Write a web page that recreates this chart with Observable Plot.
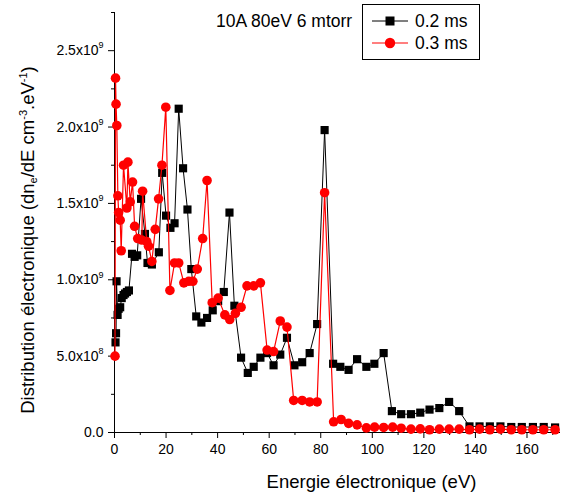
<!DOCTYPE html>
<html><head><meta charset="utf-8">
<script src="https://cdn.jsdelivr.net/npm/d3@7"></script>
<script src="https://cdn.jsdelivr.net/npm/@observablehq/plot@0.6"></script>
<style>
body{margin:0;background:#fff;}
#wrap{position:relative;width:563px;height:496px;font-family:"Liberation Sans",Arial,sans-serif;color:#000;overflow:hidden;}
#wrap svg{display:block;}
.ann{position:absolute;left:216px;top:11px;font-size:17.5px;white-space:nowrap;}
.legend{position:absolute;left:362px;top:4px;width:116px;height:54px;border:1px solid #000;background:#fff;}
.xlab{position:absolute;left:0;width:563px;top:471px;text-align:center;font-size:18.5px;white-space:nowrap;padding-left:180px;box-sizing:border-box;}
.ylab{position:absolute;left:28px;top:240px;font-size:18.5px;white-space:nowrap;transform:translate(-50%,-50%) rotate(-90deg);}
.ylab sub{font-size:11px;vertical-align:-3px;}
.ylab sup{font-size:11px;vertical-align:7px;}
</style></head><body><div id="wrap"></div>
<script>
// ---- data ----
const energy02 = [0.4,0.6,0.8,1.2,1.6,2.2,2.8,3.5,4.1,4.8,5.6,6.8,7.8,8.8,10.3,11.8,12.8,14.5,17.2,18.5,20.0,21.7,23.3,24.9,26.6,28.3,29.8,31.7,33.7,35.9,38.1,40.2,42.4,44.6,46.5,49.1,51.7,54.0,56.6,59.2,61.7,64.3,66.9,69.8,72.8,75.7,78.6,81.5,84.8,87.6,90.8,94.1,97.7,100.8,104.4,107.6,111.2,115.0,118.6,122.2,126.0,129.8,133.7,137.7,141.6,145.6,149.7,153.9,158.0,162.3,166.5,170.9];
const dist02 = [0.59e9,0.65e9,0.99e9,0.77e9,0.81e9,0.82e9,0.88e9,0.90e9,0.91e9,0.92e9,0.93e9,1.17e9,1.15e9,1.16e9,1.53e9,1.30e9,1.11e9,1.10e9,1.18e9,1.70e9,1.42e9,1.34e9,1.37e9,2.12e9,1.73e9,1.46e9,1.07e9,0.76e9,0.72e9,0.75e9,0.80e9,0.86e9,0.92e9,1.44e9,0.83e9,0.49e9,0.39e9,0.43e9,0.49e9,0.52e9,0.44e9,0.51e9,0.62e9,0.44e9,0.46e9,0.52e9,0.71e9,1.98e9,0.45e9,0.43e9,0.41e9,0.48e9,0.43e9,0.45e9,0.52e9,0.14e9,0.12e9,0.12e9,0.13e9,0.15e9,0.16e9,0.20e9,0.14e9,0.04e9,0.04e9,0.04e9,0.04e9,0.036e9,0.036e9,0.036e9,0.036e9,0.033e9];
const energy03 = [0.2,0.4,0.6,0.9,1.3,1.6,2.2,2.6,3.5,4.8,5.2,6.1,7.0,7.8,9.0,10.6,10.9,12.5,13.2,14.5,15.8,17.1,18.4,19.9,21.5,23.3,24.9,26.9,28.8,30.4,32.1,34.2,35.9,37.9,40.2,42.8,44.7,46.9,49.1,51.4,54.0,56.6,59.2,61.7,64.3,66.9,69.5,72.8,75.7,78.6,81.5,85.0,87.9,90.8,94.1,97.7,100.9,104.4,107.9,111.2,115.0,118.6,122.2,126.0,129.8,133.7,137.7,141.6,145.6,149.7,153.9,158.0,162.3,166.5,170.9];
const dist03 = [0.50e9,2.32e9,2.15e9,2.01e9,1.55e9,1.44e9,1.39e9,1.19e9,1.75e9,1.47e9,1.77e9,1.51e9,1.64e9,1.35e9,1.27e9,1.26e9,1.58e9,1.25e9,1.22e9,1.12e9,1.33e9,1.53e9,1.75e9,2.13e9,0.93e9,1.11e9,1.11e9,0.98e9,0.99e9,0.99e9,1.07e9,1.27e9,1.65e9,0.85e9,0.88e9,0.77e9,0.74e9,0.78e9,0.82e9,0.96e9,0.96e9,0.98e9,0.54e9,0.53e9,0.73e9,0.69e9,0.21e9,0.21e9,0.20e9,0.20e9,1.57e9,0.07e9,0.085e9,0.06e9,0.05e9,0.03e9,0.035e9,0.033e9,0.035e9,0.028e9,0.022e9,0.024e9,0.018e9,0.022e9,0.022e9,0.022e9,0.018e9,0.022e9,0.018e9,0.022e9,0.018e9,0.018e9,0.018e9,0.018e9,0.018e9];
const seriesNames = ["0.2 ms","0.3 ms"];
const seriesColors = ["#000000","#ff0000"];
const xTicks = [0,20,40,60,80,100,120,140,160];
const xMinor = [10,30,50,70,90,110,130,150,170];
const yTicks = [0,5e8,1e9,1.5e9,2e9,2.5e9];
const yMinor = [2.5e8,7.5e8,1.25e9,1.75e9,2.25e9,2.75e9];
const yTickMantissa = ["0.0","5.0x10","1.0x10","1.5x10","2.0x10","2.5x10"];
const yTickExp = ["","8","9","9","9","9"];
const annotation = "10A 80eV 6 mtorr";
const xTitle = "Energie électronique (eV)";

const d02 = energy02.map((e,i)=>({e, v: dist02[i]}));
const d03 = energy03.map((e,i)=>({e, v: dist03[i]}));

const plot = Plot.plot({
  width:563, height:496,
  marginLeft:114, marginRight:3, marginTop:12, marginBottom:64,
  style:{fontFamily:"Liberation Sans, Arial, sans-serif", fontSize:"14px", color:"#000", background:"transparent"},
  x:{domain:[0,173], label:null},
  y:{domain:[0,2.75e9], label:null},
  marks:[
    Plot.axisX({ticks:xMinor, tickSize:3, tickFormat:()=>"", label:null}),
    Plot.axisX({ticks:xTicks, tickSize:6, tickPadding:6, tickFormat:d=>String(d), fontSize:14, label:null}),
    Plot.axisY({ticks:yMinor, tickSize:3, tickFormat:()=>"", label:null}),
    Plot.axisY({ticks:yTicks, tickSize:6, tickPadding:5, tickFormat:d=>yTickMantissa[yTicks.indexOf(d)], fontSize:14, label:null}),
    Plot.ruleY([0], {stroke:"#000", strokeWidth:1}),
    Plot.ruleX([0], {stroke:"#000", strokeWidth:1}),
    Plot.line(d02, {x:"e", y:"v", stroke:seriesColors[0], strokeWidth:1}),
    Plot.dot(d02, {x:"e", y:"v", symbol:"square", r:4.6, fill:seriesColors[0], stroke:"none"}),
    Plot.line(d03, {x:"e", y:"v", stroke:seriesColors[1], strokeWidth:1.2}),
    Plot.dot(d03, {x:"e", y:"v", symbol:"circle", r:4.8, fill:seriesColors[1], stroke:"none"})
  ]
});

// superscript exponents on y tick labels
d3.select(plot).selectAll('g[aria-label="y-axis tick label"] text').each(function(){
  const t = this.textContent;
  const i = yTickMantissa.indexOf(t);
  if (i >= 0 && yTickExp[i]) {
    d3.select(this).append("tspan").attr("font-size","9px").attr("dy","-0.75em").text(yTickExp[i]);
  }
});

const wrap = document.getElementById("wrap");
wrap.appendChild(plot);

const ann = document.createElement("div");
ann.className = "ann"; ann.textContent = annotation; wrap.appendChild(ann);

const xl = document.createElement("div");
xl.className = "xlab"; xl.textContent = xTitle; wrap.appendChild(xl);

const yl = document.createElement("div");
yl.className = "ylab";
yl.innerHTML = "Distribution électronique (dn<sub>e</sub>/dE cm<sup>-3</sup>.eV<sup>-1</sup>)";
wrap.appendChild(yl);

// legend
const lg = document.createElement("div");
lg.className = "legend";
const lsvg = d3.create("svg").attr("width",116).attr("height",54);
seriesNames.forEach((name,i)=>{
  const g = lsvg.append("g").attr("transform",`translate(0,${16+i*22})`);
  g.append("line").attr("x1",9).attr("x2",45).attr("y1",0).attr("y2",0).attr("stroke",seriesColors[i]).attr("stroke-width",i?1.2:1);
  if (i===0) g.append("rect").attr("x",22.5).attr("y",-4.5).attr("width",9).attr("height",9).attr("fill",seriesColors[i]);
  else g.append("circle").attr("cx",27).attr("cy",0).attr("r",5.2).attr("fill",seriesColors[i]);
  g.append("text").attr("x",52).attr("y",6).attr("font-size","17.5px").attr("font-family","Liberation Sans, Arial, sans-serif").text(name);
});
lg.appendChild(lsvg.node());
wrap.appendChild(lg);
</script></body></html>
